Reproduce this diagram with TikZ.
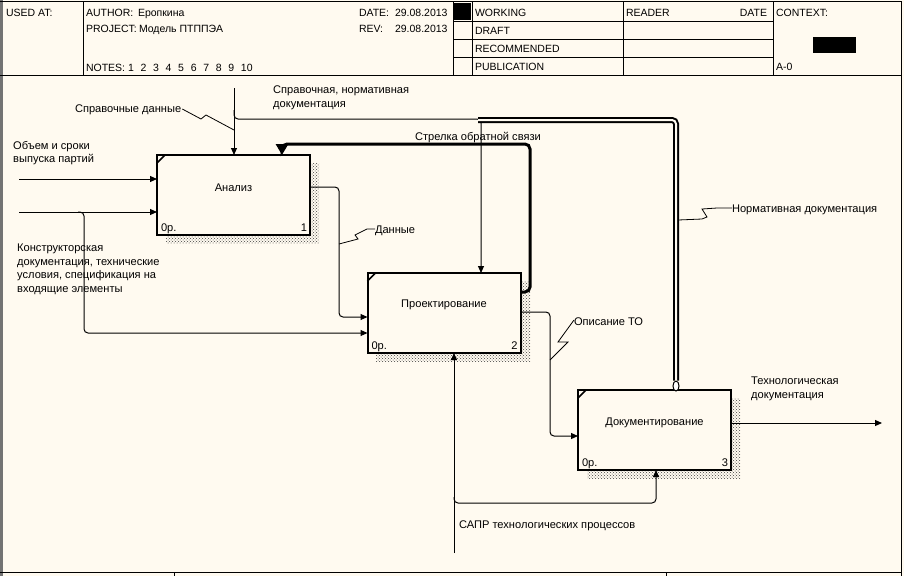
\documentclass[tikz,border=0pt]{standalone}
\usepackage{fontspec}
\setmainfont{Liberation Sans}
\usetikzlibrary{arrows.meta,shapes.geometric,patterns}
\definecolor{bg}{HTML}{FFFAF0}
\begin{document}
\begin{tikzpicture}[x=1pt,y=-1pt,
  font=\fontsize{10.5}{13}\selectfont,
  dfont/.style={font=\fontsize{11.1}{13.5}\selectfont},
  frameline/.style={line width=1pt},
  proc/.style={draw, line width=2pt, fill=bg, minimum width=153pt, minimum height=80pt, inner sep=0pt, outer sep=0pt},
  shadowbox/.style={pattern=crosshatch dots, pattern color=black!75},
  arr/.style={line width=1pt, rounded corners=4pt, -{Triangle[length=7pt,width=6pt]}},
  fb/.style={line width=3pt, rounded corners=5pt, -{Triangle[length=11pt,width=12pt]}},
  dbl/.style={line width=2pt, double=bg, double distance=2pt, rounded corners=4pt},
  squig/.style={line width=0.8pt},
  lbl/.style={anchor=base west, inner sep=0pt, outer sep=0pt},
  lblr/.style={anchor=base east, inner sep=0pt, outer sep=0pt},
  dlbl/.style={lbl, dfont},
  ttl/.style={inner sep=0pt, dfont},
  multi/.style={anchor=north west, inner sep=0pt, align=left, dfont}
]
% background and bounding box
\fill[bg] (0,0) rectangle (904,576);
\useasboundingbox (0,0) rectangle (904,576);

% ===== frame =====
\draw[line width=3pt, black!55] (1.5,0) -- (1.5,576);
\draw[frameline] (0,1.5) -- (901,1.5) -- (901,576);
\draw[frameline] (0,75) -- (901,75);
\draw[frameline] (0,572) -- (901,572);
\draw[frameline] (174,572) -- (174,576);
\draw[frameline] (666,572) -- (666,576);

% header columns
\draw[frameline] (83,1.5) -- (83,75);
\draw[frameline] (453,1.5) -- (453,75);
\draw[frameline] (472,1.5) -- (472,75);
\draw[frameline] (623,1.5) -- (623,75);
\draw[frameline] (773,1.5) -- (773,75);
\foreach \yy in {21,39,57} \draw[frameline] (453,\yy) -- (773,\yy);
\fill[black] (453,3) rectangle (471,20);
\fill[black] (813,37) rectangle (856,53);

% header texts
\node[lbl] (usedat) at (6,16) {USED AT:};
\node[lbl] (author) at (86,16) {AUTHOR:};
\node[lbl] (authorv) at (138,16) {Еропкина};
\node[lbl] (project) at (86,32) {PROJECT:};
\node[lbl] (projectv) at (139,32) {Модель ПТППЭА};
\node[lbl] (notes) at (86,71) {NOTES:};
\foreach \n [count=\i] in {1,2,3,4,5,6,7,8,9,10}
  \node[lbl] (note\i) at ({128+12.55*(\i-1)},71) {\n};
\node[lbl] (date) at (359,16) {DATE:};
\node[lbl] (datev) at (395,16) {29.08.2013};
\node[lbl] (rev) at (359,32) {REV:};
\node[lbl] (revv) at (395,32) {29.08.2013};
\node[lbl] (working) at (475,16) {WORKING};
\node[lbl] (draft) at (475,34) {DRAFT};
\node[lbl] (recom) at (475,52) {RECOMMENDED};
\node[lbl] (publ) at (475,70) {PUBLICATION};
\node[lbl] (reader) at (626,16) {READER};
\node[lblr] (rdate) at (767,16) {DATE};
\node[lbl] (context) at (776,16) {CONTEXT:};
\node[lbl] (azero) at (776,70) {A-0};

% ===== shadows and boxes =====
\fill[shadowbox] (166,163) rectangle (319,243);
\fill[shadowbox] (376,281) rectangle (530,361);
\fill[shadowbox] (587,398) rectangle (740,478);

\node[proc] (b1) at (233.5,195) {};
\node[proc] (b2) at (444,313) {};
\node[proc] (b3) at (654.5,430) {};

\foreach \b in {b1,b2,b3}
  \draw[line width=1.5pt] ([yshift=-8pt]\b.north west) -- ([xshift=8pt]\b.north west);

\node[ttl] (t1) at ([yshift=7pt]b1.center) {Анализ};
\node[ttl] (t2) at ([yshift=8pt]b2.center) {Проектирование};
\node[ttl] (t3) at ([yshift=7pt]b3.center) {Документирование};

\node[dlbl] (o1) at ([shift={(4,-4)}]b1.south west) {0р.};
\node[lblr,dfont] (n1) at ([shift={(-3,-4)}]b1.south east) {1};
\node[dlbl] (o2) at ([shift={(4,-4)}]b2.south west) {0р.};
\node[lblr,dfont] (n2) at ([shift={(-3,-4)}]b2.south east) {2};
\node[dlbl] (o3) at ([shift={(4,-4)}]b3.south west) {0р.};
\node[lblr,dfont] (n3) at ([shift={(-3,-4)}]b3.south east) {3};

% ===== arrows =====
% inputs to box 1
\coordinate (i1) at (19,179);
\draw[arr] (i1) -- (i1 -| b1.west);
\coordinate (i2) at (19,212);
\draw[arr] (i2) -- (i2 -| b1.west);
% branch to box 2
\coordinate (j2) at (78,212);
\coordinate (k2) at (84,333);
\draw[arr] (j2) -- (j2 -| k2) -- (k2) -- (k2 -| b2.west);

% control to box 1
\coordinate (c1) at (234,88);
\draw[arr] (c1) -- (c1 |- b1.north);
% branch to box 2 (control)
\coordinate (c2a) at (234,110);
\coordinate (c2b) at (481,119);
\draw[arr] (c2a) -- (c2a |- c2b) -- (c2b) -- (c2b |- b2.north);
% double line to box 3
\coordinate (d0) at (478,120);
\coordinate (d1) at (676,120);
\node[draw, line width=1pt, fill=white, ellipse, minimum width=6pt, minimum height=10pt, inner sep=0pt] (tun) at (676,386) {};
\draw[dbl] (d0) -- (d1) -- (tun.north);

% feedback
\coordinate (f0) at (521,292);
\coordinate (f1) at (530,144);
\coordinate (f2) at (282,144);
\draw[fb] (f0) -- (f0 -| f1) -- (f1) -- (f2) -- (f2 |- b1.north);

% data box1 -> box2
\coordinate (e1) at (339,187);
\coordinate (e2) at (339,317);
\draw[arr] (e1 -| b1.east) -- (e1) -- (e2) -- (e2 -| b2.west);

% description box2 -> box3
\coordinate (g1) at (550,312);
\coordinate (g2) at (550,436);
\draw[arr] (g1 -| b2.east) -- (g1) -- (g2) -- (g2 -| b3.west);

% output of box3
\coordinate (out) at (882,423);
\draw[arr] (out -| b3.east) -- (out);

% mechanism
\coordinate (m0) at (454,553);
\draw[arr] (m0) -- (m0 |- b2.south);
\coordinate (m1) at (454,497);
\coordinate (m2) at (656,503);
\draw[arr] (m1) -- (m1 |- m2) -- (m2) -- (m2 |- b3.south);

% ===== labels =====
\node[dlbl] (l1) at (75,112) {Справочные данные};
\draw[squig] (l1.base east) ++(1,-3) -- (201,119) -- (206,115) -- (234,130);

\node[multi] (l2) at (273,86) {Справочная, нормативная\\документация};
\node[dlbl] (l3) at (415,140) {Стрелка обратной связи};
\node[multi] (l4) at (13,141) {Объем и сроки\\выпуска партий};
\node[multi] (l5) at (17,244) {Конструкторская\\документация, технические\\условия, спецификация на\\входящие элементы};

\node[dlbl] (l6) at (375,233) {Данные};
\draw[squig] (339,244) -- (358,239) -- (355,235) -- (367,229) -- (l6.base west |- 0,229);

\node[dlbl] (l7) at (574,325) {Описание ТО};
\draw[squig] (550,360) -- (568,342) -- (558,342) -- (l7.base west |- 0,320);

\node[dlbl] (l8) at (732,212) {Нормативная документация};
\draw[squig] (678,220) -- (702,219) -- (707,217) -- (702,209) -- (717,208) -- (l8.base west |- 0,208);

\node[multi] (l9) at (751,377) {Технологическая\\документация};
\node[dlbl] (l10) at (459,528) {САПР технологических процессов};
\end{tikzpicture}
\end{document}
